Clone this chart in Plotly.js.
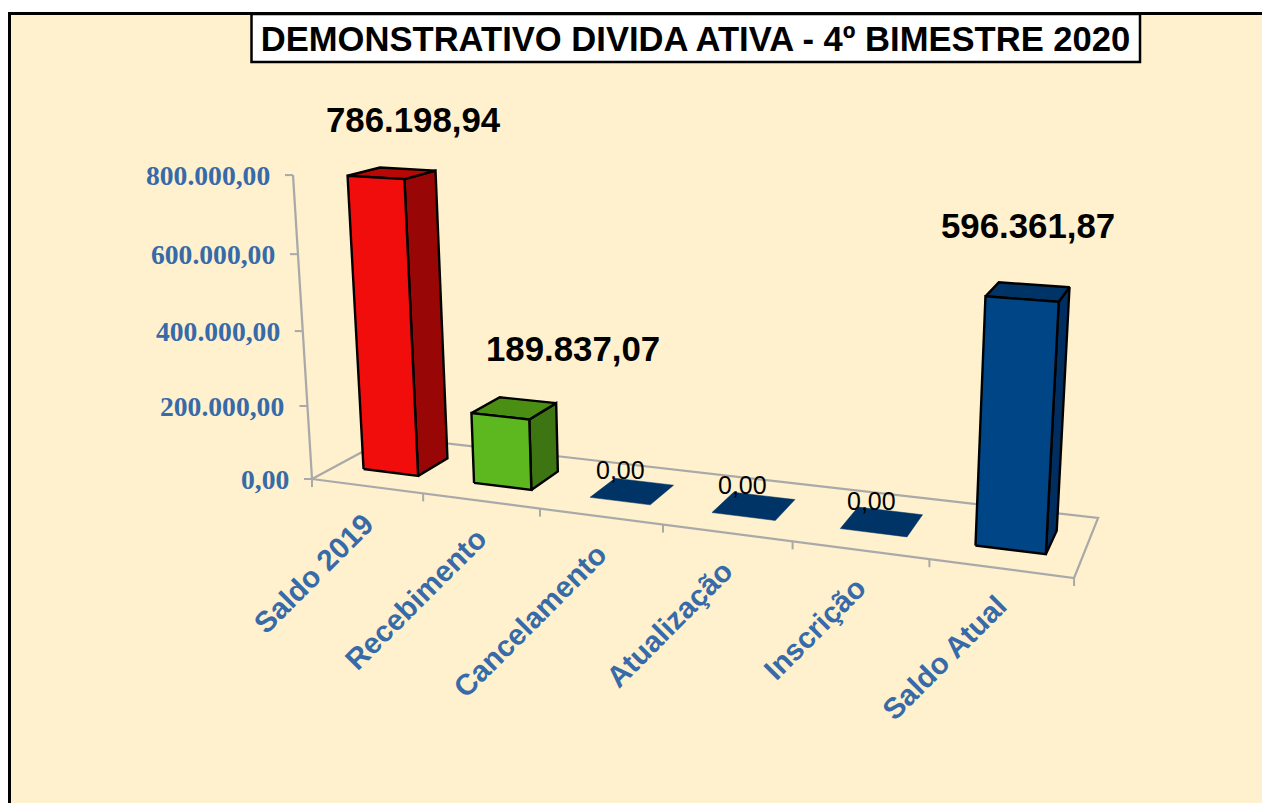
<!DOCTYPE html>
<html>
<head>
<meta charset="utf-8">
<script src="https://cdn.plot.ly/plotly-3.0.1.min.js"></script>
<style>html,body{margin:0;padding:0;background:#fff;overflow:hidden}#chart{width:1262px;height:803px}</style>
</head>
<body>
<div id="chart"></div>
<script>
// ---- data ----
const categories = ['Saldo 2019', 'Recebimento', 'Cancelamento', 'Atualização', 'Inscrição', 'Saldo Atual'];
const values = [786198.94, 189837.07, 0, 0, 0, 596361.87];
const valueTicks = [0, 200000, 400000, 600000, 800000];
const chartTitle = 'DEMONSTRATIVO DIVIDA ATIVA - 4º BIMESTRE 2020';

// ---- styles ----
const frontColors = ['#F20D0D', '#5DB71F', '#003366', '#003366', '#003366', '#004586'];
const sideColors  = ['#990606', '#3D7512', '#003366', '#003366', '#003366', '#002E60'];
const topColors   = ['#B80707', '#4A8F14', '#003366', '#003366', '#003366', '#003366'];
const labelShiftX = [22, 59, -12, -11, -10, 0];
const labelShiftY = [-54, -60, -21, -21, -21, -66];
const blue = '#376AA8', grey = '#A9A9A9', cream = '#FFF1CD';

// ---- oblique perspective view of (category position, depth, value) ----
function view(u, t, v) {
  const s0 = u / 6, s = 1.052 * s0 / (1 + 0.052 * s0);
  const w = 1 - 0.1884 * s + 0.0827 * t;
  const bx = (559.7 * s + 110.3 * t + 312) / w;
  const by = (-9.9 * s - 5.86 * t + 479) / w;
  const lift = v / (1 - 6.5e-8 * v);
  const h = 6.22e-7 * (by + 100) * lift;
  return [bx + (bx - 718) / (6972 - by) * h, by - h];
}
function poly(pts, fill, lineColor, lineWidth) {
  return {
    type: 'scatter', mode: 'lines', hoverinfo: 'skip', showlegend: false,
    x: pts.map(p => p[0]), y: pts.map(p => p[1]),
    fill: fill ? 'toself' : 'none', fillcolor: fill || undefined,
    line: {color: lineColor || fill, width: lineWidth === undefined ? 2 : lineWidth, simplify: false}
  };
}
const fmt = n => {
  const [i, d] = n.toFixed(2).split('.');
  return i.replace(/\B(?=(\d{3})+$)/g, '.') + ',' + d;
};

const traces = [], annotations = [];

// floor outline
traces.push(poly([view(0,0,0), view(6,0,0), view(6,1,0), view(0,1,0), view(0,0,0)], null, grey, 2.2));
// value axis
traces.push(poly([view(0,0,0), view(0,0,valueTicks[valueTicks.length-1])], null, grey, 2.2));

valueTicks.forEach(v => {
  const p = view(0, 0, v);
  traces.push(poly([[p[0] - 8, p[1]], p], null, grey, 2));
  annotations.push({
    x: p[0], y: p[1], xref: 'x', yref: 'y', showarrow: false, xanchor: 'right', yanchor: 'middle',
    xshift: -21, text: fmt(v),
    font: {family: 'Liberation Serif', size: 27.6, color: blue, weight: 700}
  });
});
// category ticks and labels
for (let u = 0; u <= categories.length; u++) {
  const p = view(u, 0, 0);
  traces.push(poly([p, [p[0], p[1] + 8]], null, grey, 2));
}
categories.forEach((c, i) => {
  const p = view(i + 0.5, 0, 0);
  annotations.push({
    x: p[0], y: p[1], xref: 'x', yref: 'y', showarrow: false, xanchor: 'right', yanchor: 'top',
    xshift: 15, yshift: -18, textangle: -45, text: c,
    font: {family: 'Liberation Sans', size: 29.5, color: blue, weight: 700}
  });
});

// bars
const hw = 0.25, t0 = 0.3, t1 = 0.7;
values.forEach((v, i) => {
  const a = i + 0.5 - hw, b = i + 0.5 + hw;
  const FLb = view(a,t0,0), FRb = view(b,t0,0), BRb = view(b,t1,0);
  const FL = view(a,t0,v), FR = view(b,t0,v), BR = view(b,t1,v), BL = view(a,t1,v);
  const cTop = view(i + 0.5, 0.5, v);
  if (v > 0) {
    traces.push(poly([FRb, BRb, BR, FR, FRb], sideColors[i], '#000000', 2.4));
    traces.push(poly([FL, FR, BR, BL, FL], topColors[i], '#000000', 2.4));
    traces.push(poly([FLb, FRb, FR, FL, FLb], frontColors[i], '#000000', 2.4));
  } else {
    traces.push(poly([FL, FR, BR, BL, FL], topColors[i], topColors[i], 0.5));
  }
  annotations.push({
    x: cTop[0] + labelShiftX[i], y: cTop[1] + labelShiftY[i], xref: 'x', yref: 'y',
    showarrow: false, xanchor: 'center', yanchor: 'middle', text: fmt(v),
    font: v > 0 ? {family: 'Liberation Sans', size: 34.8, color: '#000000', weight: 700}
                : {family: 'Liberation Sans', size: 25, color: '#000000'}
  });
});

const layout = {
  width: 1262, height: 803,
  margin: {l: 0, r: 0, t: 0, b: 0, pad: 0},
  paper_bgcolor: '#ffffff', plot_bgcolor: 'rgba(0,0,0,0)',
  showlegend: false,
  xaxis: {range: [0, 1262], visible: false, fixedrange: true},
  yaxis: {range: [803, 0], visible: false, fixedrange: true},
  title: {
    text: chartTitle, x: 695.5 / 1262, y: 1 - 38.5 / 803, xref: 'paper', yref: 'container',
    xanchor: 'center', yanchor: 'middle',
    font: {family: 'Liberation Sans', size: 34.6, color: '#000000', weight: 700}
  },
  shapes: [
    {type: 'rect', layer: 'below', xref: 'x', yref: 'y', x0: 9.5, y0: 13.5, x1: 1300, y1: 840,
     fillcolor: cream, line: {color: '#000000', width: 3}},
    {type: 'rect', layer: 'below', xref: 'x', yref: 'y', x0: 251.5, y0: 14, x1: 1140, y1: 62,
     fillcolor: '#ffffff', line: {color: '#000000', width: 2.5}}
  ],
  annotations: annotations
};
Plotly.newPlot('chart', traces, layout, {displayModeBar: false, staticPlot: true});
</script>
</body>
</html>
